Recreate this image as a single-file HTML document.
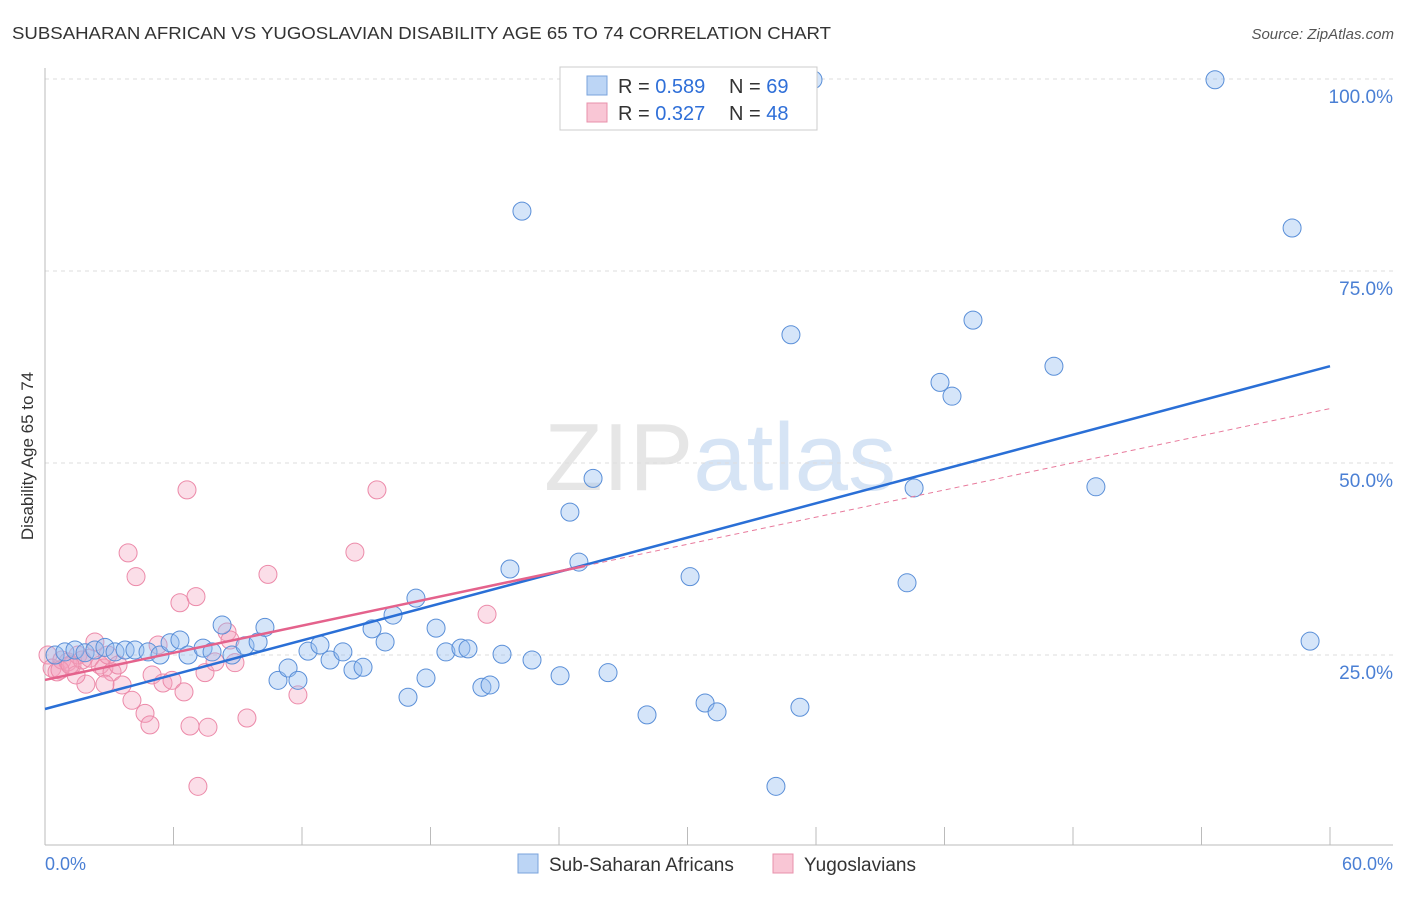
<!DOCTYPE html>
<html><head><meta charset="utf-8"><style>
body{margin:0;background:#fff;font-family:"Liberation Sans",sans-serif;}
svg text{font-family:"Liberation Sans",sans-serif;}
</style></head><body>
<svg id="chart" width="1406" height="892" xmlns="http://www.w3.org/2000/svg">
<text x="12" y="39" font-size="17.5" fill="#333" textLength="819" lengthAdjust="spacingAndGlyphs">SUBSAHARAN AFRICAN VS YUGOSLAVIAN DISABILITY AGE 65 TO 74 CORRELATION CHART</text>
<text x="1394" y="39" font-size="15" fill="#555" font-style="italic" text-anchor="end">Source: ZipAtlas.com</text>
<text x="720" y="490" font-size="96" fill="#e6e6e6" text-anchor="middle" font-family="Liberation Serif">ZIP<tspan fill="#d6e4f5" font-family="Liberation Sans">atlas</tspan></text>
<g id="grid"></g>
<line x1="45" y1="68" x2="45" y2="845" stroke="#bbb"/>
<line x1="45" y1="845" x2="1393" y2="845" stroke="#bbb"/>
<g id="xticks"></g>
<text transform="translate(33,456) rotate(-90)" font-size="17" fill="#333" text-anchor="middle">Disability Age 65 to 74</text>
<text x="45" y="870" font-size="18" fill="#4a7fd4">0.0%</text>
<text x="1393" y="870" font-size="18" fill="#4a7fd4" text-anchor="end">60.0%</text>
<g id="marks"></g>
<g>
<rect x="560" y="67" width="257" height="63" fill="#fff" stroke="#ccc"/>
<rect x="587" y="76" width="20" height="19" fill="#bcd5f5" stroke="#7aa3dc"/>
<rect x="587" y="103" width="20" height="19" fill="#f9c6d5" stroke="#e890ab"/>
<text x="618" y="93" font-size="20" fill="#333">R = <tspan fill="#2f6fd8">0.589</tspan></text>
<text x="729" y="93" font-size="20" fill="#333">N = <tspan fill="#2f6fd8">69</tspan></text>
<text x="618" y="120" font-size="20" fill="#333">R = <tspan fill="#2f6fd8">0.327</tspan></text>
<text x="729" y="120" font-size="20" fill="#333">N = <tspan fill="#2f6fd8">48</tspan></text>
</g>
<g>
<rect x="518" y="854" width="20" height="19" fill="#bcd5f5" stroke="#7aa3dc"/>
<text x="549" y="871" font-size="19" fill="#333">Sub-Saharan Africans</text>
<rect x="773" y="854" width="20" height="19" fill="#f9c6d5" stroke="#e890ab"/>
<text x="804" y="871" font-size="19" fill="#333">Yugoslavians</text>
</g>
</svg>
<script>
const yTicks=[25,50,75,100];
const yTickLabels=["25.0%","50.0%","75.0%","100.0%"];
const xTickValues=[0,6,12,18,24,30,36,42,48,54,60];
const blueX=[0.47,0.93,1.40,1.87,2.33,2.80,3.27,3.74,4.20,4.81,5.37,5.84,6.30,6.68,7.38,7.80,8.27,8.73,9.34,9.95,10.27,10.88,11.35,11.81,12.28,12.84,13.31,13.91,14.38,14.85,15.27,15.88,16.25,16.95,17.32,17.79,18.26,18.72,19.42,19.75,20.40,20.78,21.34,21.71,22.27,22.74,24.05,24.51,24.93,25.59,26.29,28.11,30.12,30.82,31.38,34.83,35.25,34.13,35.86,40.25,40.58,41.79,42.35,43.33,47.11,49.07,54.63,58.23,59.07];
const blueY=[25.0,25.4,25.65,25.3,25.65,26.0,25.4,25.65,25.65,25.4,25.0,26.6,26.95,25.0,25.9,25.4,28.9,25.0,26.2,26.7,28.6,21.7,23.3,21.7,25.5,26.3,24.35,25.4,23.05,23.4,28.4,26.7,30.2,19.5,32.4,22.0,28.5,25.4,25.9,25.8,20.8,21.1,25.1,36.2,82.8,24.35,22.3,43.6,37.1,48.0,22.7,17.2,35.2,18.75,17.6,66.7,18.2,7.9,99.9,34.4,46.75,60.5,58.7,68.6,62.6,46.9,99.9,80.6,26.8];
const pinkX=[0.14,0.33,0.56,0.79,1.07,1.26,1.54,1.73,2.10,2.33,2.57,2.75,2.94,3.13,3.41,3.60,2.80,1.91,1.45,3.88,4.25,4.06,4.67,4.90,5.00,5.28,5.51,5.93,6.30,6.49,6.63,7.05,6.77,7.47,7.61,7.14,7.94,8.50,8.64,8.87,9.43,10.41,11.81,14.47,15.50,20.64,0.70,1.17];
const pinkY=[25.0,23.3,22.8,24.35,24.1,23.7,25.0,24.35,24.6,26.7,23.7,23.3,25.0,22.8,23.7,21.1,21.2,21.2,22.4,38.3,35.2,19.1,17.4,15.9,22.4,26.3,21.35,21.7,31.8,20.2,46.5,32.6,15.75,22.7,15.6,7.9,24.1,28.0,26.95,24.0,16.8,35.5,19.8,38.4,46.5,30.3,23.05,23.7];
const blueFit=[17.97,0.744];
const pinkFit=[21.75,0.589];
const pinkSolidEnd=25.2;
const NS="http://www.w3.org/2000/svg";
const X=v=>45+v/60*1285, Y=v=>847-v/100*768;
function mk(tag,attrs,parent){const e=document.createElementNS(NS,tag);for(const k in attrs)e.setAttribute(k,attrs[k]);document.getElementById(parent).appendChild(e);return e;}
yTicks.forEach((t,i)=>{
 const l=mk('line',{x1:45,x2:1393,y1:Y(t),y2:Y(t),stroke:'#ddd','stroke-dasharray':'4,4'},'grid');
 
 
 const tx=mk('text',{x:1393,y:Y(t)+24,'font-size':19,fill:'#4a7fd4','text-anchor':'end'},'grid');
 tx.textContent=yTickLabels[i];
 
 
});
xTickValues.forEach(t=>{
 const l=mk('line',{x1:X(t),x2:X(t),y1:827,y2:845,stroke:'#bbb'},'xticks');
 
 
});
pinkX.forEach((v,i)=>{
 const c=mk('circle',{cx:X(v),cy:Y(pinkY[i]),r:9,fill:'rgba(244,160,188,0.35)',stroke:'#ec8aa9','stroke-width':1},'marks');
 
 
});
blueX.forEach((v,i)=>{
 const c=mk('circle',{cx:X(v),cy:Y(blueY[i]),r:9,fill:'rgba(150,190,240,0.4)',stroke:'#5a8fd8','stroke-width':1},'marks');
 
 
});
const bl=mk('line',{x1:X(0),y1:Y(blueFit[0]),x2:X(60),y2:Y(blueFit[0]+blueFit[1]*60),stroke:'#2a6fd6','stroke-width':2.5},'marks');


const pd=mk('line',{x1:X(pinkSolidEnd),y1:Y(pinkFit[0]+pinkFit[1]*pinkSolidEnd),x2:X(60),y2:Y(pinkFit[0]+pinkFit[1]*60),stroke:'#e87a9c','stroke-width':1,'stroke-dasharray':'5,4'},'marks');


const pl=mk('line',{x1:X(0),y1:Y(pinkFit[0]),x2:X(pinkSolidEnd),y2:Y(pinkFit[0]+pinkFit[1]*pinkSolidEnd),stroke:'#e4628c','stroke-width':2.5},'marks');


</script>
</body></html>
